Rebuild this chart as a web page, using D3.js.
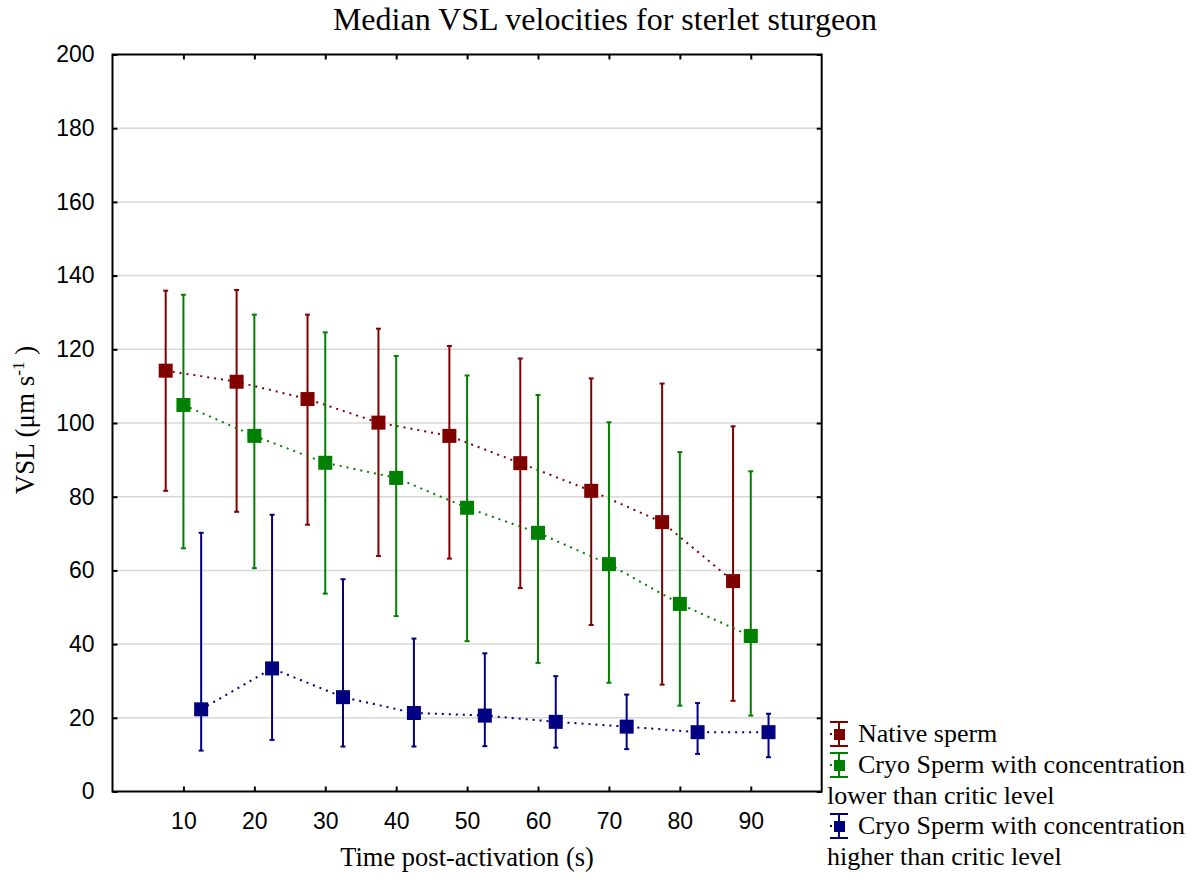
<!DOCTYPE html>
<html>
<head>
<meta charset="utf-8">
<script src="https://cdn.jsdelivr.net/npm/d3@7"></script>
<style>
  html, body { margin: 0; padding: 0; background: #fff; }
  svg { display: block; }
</style>
</head>
<body>
<svg id="chart" width="1201" height="882"></svg>
<script>
// ---------- data ----------
const xTicks = [10, 20, 30, 40, 50, 60, 70, 80, 90];
const yTicks = [0, 20, 40, 60, 80, 100, 120, 140, 160, 180, 200];

const nativeX   = [7.5, 17.5, 27.5, 37.5, 47.5, 57.5, 67.5, 77.5, 87.5];
const nativeMed = [114.2, 111.2, 106.5, 100.1, 96.5, 89.1, 81.6, 73.1, 57.1];
const nativeHi  = [135.9, 136.1, 129.4, 125.6, 120.9, 117.5, 112.1, 110.7, 99.1];
const nativeLo  = [81.6, 75.9, 72.4, 63.9, 63.2, 55.2, 45.2, 29.0, 24.6];

const cryoLowX   = [10, 20, 30, 40, 50, 60, 70, 80, 90];
const cryoLowMed = [104.9, 96.5, 89.2, 85.1, 77.0, 70.2, 61.7, 50.9, 42.2];
const cryoLowHi  = [134.8, 129.4, 124.6, 118.2, 112.9, 107.6, 100.2, 92.1, 86.9];
const cryoLowLo  = [66.0, 60.6, 53.7, 47.6, 40.8, 34.9, 29.5, 23.3, 20.6];

const cryoHighX   = [12.5, 22.5, 32.5, 42.5, 52.5, 62.5, 72.5, 82.5, 92.5];
const cryoHighMed = [22.3, 33.4, 25.6, 21.3, 20.6, 18.9, 17.6, 16.1, 16.1];
const cryoHighHi  = [70.2, 75.1, 57.6, 41.5, 37.5, 31.3, 26.3, 24.0, 21.1];
const cryoHighLo  = [11.1, 14.0, 12.2, 12.2, 12.3, 11.9, 11.5, 10.2, 9.3];

const seriesNames = ["Native sperm", "Cryo Sperm with concentration lower than critic level", "Cryo Sperm with concentration higher than critic level"];
const seriesColors = ["#800000", "#008000", "#000080"];

const series = [
  { name: seriesNames[0], color: seriesColors[0], x: nativeX, med: nativeMed, hi: nativeHi, lo: nativeLo },
  { name: seriesNames[1], color: seriesColors[1], x: cryoLowX, med: cryoLowMed, hi: cryoLowHi, lo: cryoLowLo },
  { name: seriesNames[2], color: seriesColors[2], x: cryoHighX, med: cryoHighMed, hi: cryoHighHi, lo: cryoHighLo }
];

// ---------- layout ----------
const svg = d3.select("#chart");
const L = 112.5, R = 821.7, T = 54.5, B = 791.5;
const x = d3.scaleLinear().domain([0, 100]).range([L, R]);
const y = d3.scaleLinear().domain([0, 200]).range([B, T]);
const serif = "'Liberation Serif', 'Times New Roman', serif";
const sans = "'Liberation Sans', Arial, sans-serif";

// grid
svg.append("g").selectAll("line").data(yTicks.filter(d => d > 0 && d < 200)).join("line")
  .attr("x1", L).attr("x2", R).attr("y1", d => y(d)).attr("y2", d => y(d))
  .attr("stroke", "#d8d8d8").attr("stroke-width", 1.5);

// axes (ticks inward)
const tickLen = 5;
const axB = svg.append("g").attr("transform", `translate(0,${B})`)
  .call(d3.axisBottom(x).tickValues(xTicks).tickSizeInner(-tickLen).tickSizeOuter(0).tickPadding(21));
const axT = svg.append("g").attr("transform", `translate(0,${T})`)
  .call(d3.axisTop(x).tickValues(xTicks).tickSizeInner(-tickLen).tickSizeOuter(0).tickFormat(""));
const axL = svg.append("g").attr("transform", `translate(${L},0)`)
  .call(d3.axisLeft(y).tickValues(yTicks).tickSizeInner(-tickLen).tickSizeOuter(0).tickPadding(18));
const axR = svg.append("g").attr("transform", `translate(${R},0)`)
  .call(d3.axisRight(y).tickValues(yTicks).tickSizeInner(-tickLen).tickSizeOuter(0).tickFormat(""));
[axB, axT, axL, axR].forEach(a => {
  a.select(".domain").remove();
  a.selectAll(".tick line").attr("stroke", "#000").attr("stroke-width", 2);
  a.selectAll(".tick text").attr("font-family", sans).attr("font-size", 23).attr("fill", "#000");
});
axB.selectAll(".tick text").attr("dy", "0.71em");
// frame
svg.append("rect").attr("x", L).attr("y", T).attr("width", R - L).attr("height", B - T)
  .attr("fill", "none").attr("stroke", "#000").attr("stroke-width", 2);

// series
series.forEach(s => {
  const g = svg.append("g");
  const pts = s.x.map((xv, i) => ({ x: xv, med: s.med[i], hi: s.hi[i], lo: s.lo[i] }));
  g.append("path").datum(pts)
    .attr("d", d3.line().x(d => x(d.x)).y(d => y(d.med)))
    .attr("fill", "none").attr("stroke", s.color).attr("stroke-width", 2)
    .attr("stroke-dasharray", "2,5");
  g.selectAll("line.eb").data(pts).join("line").attr("class", "eb")
    .attr("x1", d => x(d.x)).attr("x2", d => x(d.x)).attr("y1", d => y(d.hi)).attr("y2", d => y(d.lo))
    .attr("stroke", s.color).attr("stroke-width", 2);
  ["hi", "lo"].forEach(k => {
    g.selectAll("line.cap" + k).data(pts).join("line").attr("class", "cap" + k)
      .attr("x1", d => x(d.x) - 2.5).attr("x2", d => x(d.x) + 2.5)
      .attr("y1", d => y(d[k])).attr("y2", d => y(d[k]))
      .attr("stroke", s.color).attr("stroke-width", 2);
  });
  g.selectAll("rect").data(pts).join("rect")
    .attr("x", d => x(d.x) - 7).attr("y", d => y(d.med) - 7)
    .attr("width", 14).attr("height", 14).attr("fill", s.color);
});

// title
svg.append("text").attr("x", 605).attr("y", 30).attr("text-anchor", "middle")
  .attr("font-family", serif).attr("font-size", 32).text("Median VSL velocities for sterlet sturgeon");

// x label
svg.append("text").attr("x", (L + R) / 2).attr("y", 866).attr("text-anchor", "middle")
  .attr("font-family", serif).attr("font-size", 26.5).text("Time post-activation (s)");

// y label
const yl = svg.append("text").attr("transform", `translate(34,${(T + B) / 2 - 3}) rotate(-90)`)
  .attr("text-anchor", "middle").attr("font-family", serif).attr("font-size", 27);
yl.append("tspan").text("VSL (\u03BCm s");
yl.append("tspan").attr("font-size", 17).attr("dy", -10).text("-1");
yl.append("tspan").attr("dy", 10).text(" )");

// legend
const lg = svg.append("g");
const legendRows = [
  { color: seriesColors[0], lines: ["Native sperm"], y: 734 },
  { color: seriesColors[1], lines: ["Cryo Sperm with concentration", "lower than critic level"], y: 765 },
  { color: seriesColors[2], lines: ["Cryo Sperm with concentration", "higher than critic level"], y: 826 }
];
legendRows.forEach(r => {
  const cx = 839;
  lg.append("line").attr("x1", cx).attr("x2", cx).attr("y1", r.y - 12).attr("y2", r.y + 12)
    .attr("stroke", r.color).attr("stroke-width", 2);
  [-12, 12].forEach(o => lg.append("line").attr("x1", cx - 9).attr("x2", cx + 9)
    .attr("y1", r.y + o).attr("y2", r.y + o).attr("stroke", r.color).attr("stroke-width", 2));
  lg.append("rect").attr("x", cx - 5).attr("y", r.y - 5).attr("width", 11).attr("height", 11).attr("fill", r.color);
  lg.append("rect").attr("x", 830).attr("y", r.y - 1).attr("width", 2).attr("height", 2).attr("fill", r.color);
  r.lines.forEach((t, i) => {
    lg.append("text").attr("x", i === 0 ? 858 : 827).attr("y", r.y + 8 + i * 31)
      .attr("font-family", serif).attr("font-size", 26).text(t);
  });
});
</script>
</body>
</html>
